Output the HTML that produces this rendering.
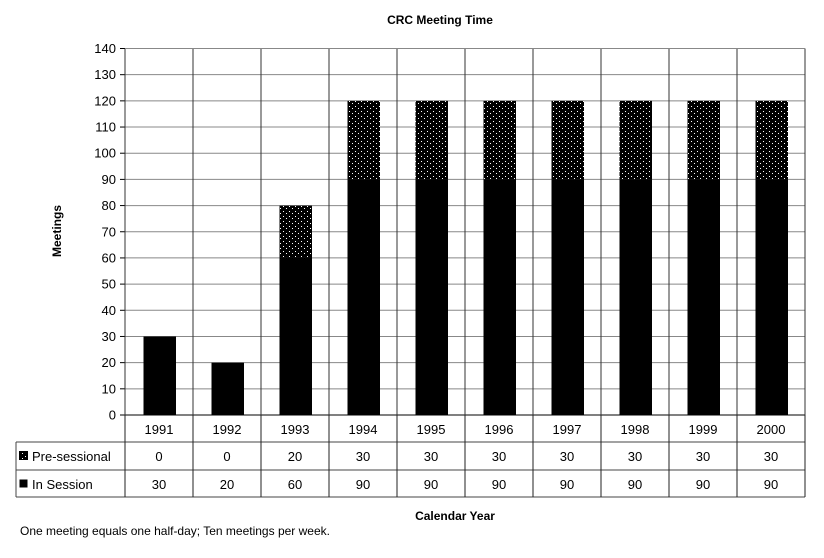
<!DOCTYPE html>
<html><head><meta charset="utf-8"><style>
html,body{margin:0;padding:0;background:#fff;}
svg{display:block;font-family:"Liberation Sans",Arial,sans-serif;}
</style></head><body>
<svg id="chart" width="824" height="558" viewBox="0 0 824 558">
<defs>
<pattern id="dots" width="6" height="5" patternUnits="userSpaceOnUse">
<rect width="6" height="5" fill="#000"/>
<rect x="1" y="1" width="1" height="1" fill="#fff"/>
<rect x="4" y="3" width="1" height="1" fill="#fff"/>
</pattern>
</defs>
<text x="440" y="24" text-anchor="middle" font-size="12" font-weight="bold">CRC Meeting Time</text>
<text transform="translate(61,231) rotate(-90)" text-anchor="middle" font-size="12" font-weight="bold">Meetings</text>
<text x="455" y="520" text-anchor="middle" font-size="12" font-weight="bold">Calendar Year</text>
<text x="20" y="535" font-size="12">One meeting equals one half-day; Ten meetings per week.</text>
<g id="grid"></g>
<g id="bars"></g>
<g id="table"></g>
</svg>
<script>
const categories = ["1991","1992","1993","1994","1995","1996","1997","1998","1999","2000"];
const inSession = [30,20,60,90,90,90,90,90,90,90];
const preSessional = [0,0,20,30,30,30,30,30,30,30];
const yTicks = [0,10,20,30,40,50,60,70,80,90,100,110,120,130,140];

const NS = "http://www.w3.org/2000/svg";
const L = 125, R = 805, T = 48.5, B = 415;
const yMax = 140;
const colW = (R - L) / categories.length;
const y = v => B - (v / yMax) * (B - T);
const xCol = i => L + i * colW;
function mk(tag, attrs, parent){const e=document.createElementNS(NS,tag);for(const k in attrs)e.setAttribute(k,attrs[k]);parent.appendChild(e);return e;}
const grid = document.getElementById("grid"), bars = document.getElementById("bars"), table = document.getElementById("table");

yTicks.forEach(v=>{
  const ln = mk("line",{x1:L,x2:R,y1:y(v),y2:y(v),stroke:v===0?"#000":"#888","stroke-width":1},grid);
  
  
  mk("line",{x1:L-5,x2:L,y1:y(v),y2:y(v),stroke:"#000"},grid);
  const t = mk("text",{x:L-9,y:y(v)+4.5,"text-anchor":"end","font-size":"13"},grid);
  t.textContent = v;
  
  
});
for(let i=0;i<=categories.length;i++){
  mk("line",{x1:xCol(i),x2:xCol(i),y1:T,y2:B,stroke:"#333"},grid);
}
mk("line",{x1:L,x2:R,y1:T,y2:T,stroke:"#888"},grid);

categories.forEach((c,i)=>{
  const bx = xCol(i) + 18.5, bw = 32.5;
  const r1 = mk("rect",{x:bx,y:y(inSession[i]),width:bw,height:B-y(inSession[i]),fill:"#000"},bars);
  
  
  if(preSessional[i]>0){
    const top = inSession[i]+preSessional[i];
    const r2 = mk("rect",{x:bx,y:y(top),width:bw,height:y(inSession[i])-y(top),fill:"url(#dots)"},bars);
    
    
  }
});

// data table
const rows=[415,442,470,497], TL=16;
mk("line",{x1:TL,x2:R,y1:442,y2:442,stroke:"#444"},table);
mk("line",{x1:TL,x2:R,y1:470,y2:470,stroke:"#444"},table);
mk("line",{x1:TL,x2:R,y1:497,y2:497,stroke:"#444"},table);
mk("line",{x1:TL,x2:TL,y1:442,y2:497,stroke:"#444"},table);
for(let i=0;i<=categories.length;i++) mk("line",{x1:xCol(i),x2:xCol(i),y1:415,y2:497,stroke:"#222"},table);
categories.forEach((c,i)=>{
  const cx = xCol(i)+colW/2;
  const t=mk("text",{x:cx,y:434,"text-anchor":"middle","font-size":"13"},table);t.textContent=c;
  
  
  const a=mk("text",{x:cx,y:461,"text-anchor":"middle","font-size":"13"},table);a.textContent=preSessional[i];
  
  
  const b=mk("text",{x:cx,y:489,"text-anchor":"middle","font-size":"13"},table);b.textContent=inSession[i];
  
  
});
const k1=mk("rect",{x:19.5,y:451.5,width:8,height:8,fill:"url(#dots)",stroke:"#000"},table);


const l1=mk("text",{x:32,y:461,"font-size":"13"},table);l1.textContent="Pre-sessional";


const k2=mk("rect",{x:19.5,y:479.5,width:8,height:8,fill:"#000"},table);


const l2=mk("text",{x:32,y:489,"font-size":"13"},table);l2.textContent="In Session";


</script>
</body></html>
